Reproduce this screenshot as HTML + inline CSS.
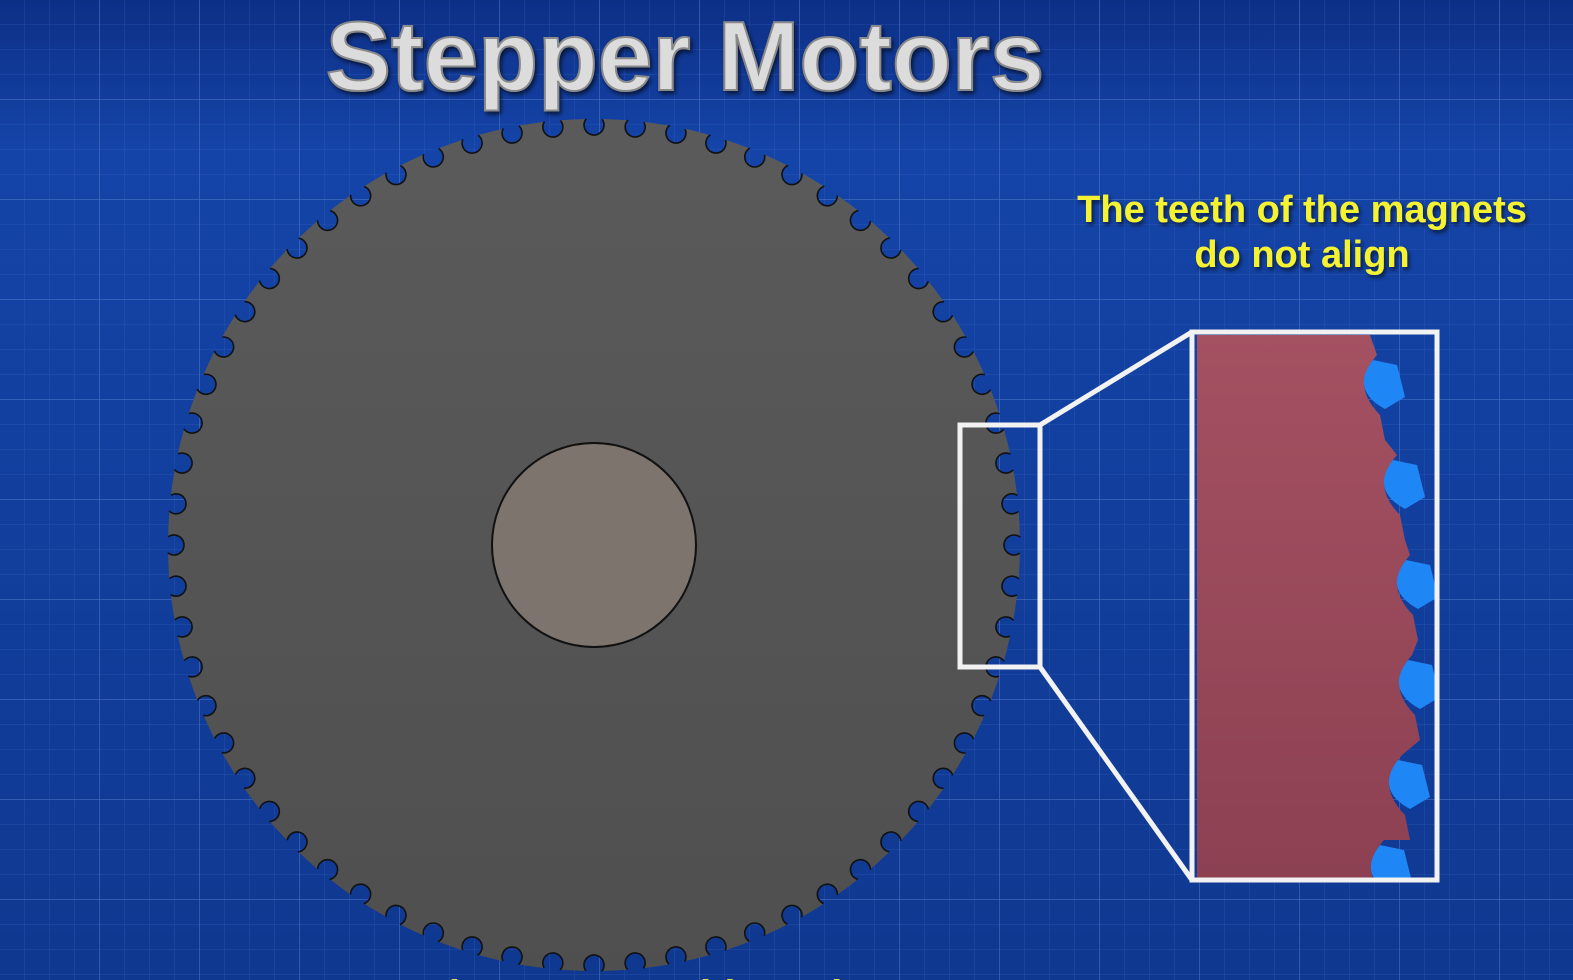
<!DOCTYPE html>
<html><head><meta charset="utf-8"><style>
html,body{margin:0;padding:0;width:1573px;height:980px;overflow:hidden;background:#1241a0;}
svg{display:block}
</style></head><body>
<svg id="scene" width="1573" height="980" viewBox="0 0 1573 980" xmlns="http://www.w3.org/2000/svg">
<defs>
  <linearGradient id="bg" x1="0" y1="0" x2="0" y2="1">
    <stop offset="0" stop-color="#0d2f86"/>
    <stop offset="0.15" stop-color="#1444a8"/>
    <stop offset="1" stop-color="#0f3890"/>
  </linearGradient>
  <pattern id="minor" width="25" height="25" patternUnits="userSpaceOnUse">
    <path d="M25 0V25M0 25H25" stroke="#3a66c0" stroke-width="1" fill="none" opacity="0.5"/>
  </pattern>
  <pattern id="major" width="100" height="100" patternUnits="userSpaceOnUse">
    <path d="M100 0V100M0 100H100" stroke="#5a84d0" stroke-width="1.5" fill="none" opacity="0.5"/>
  </pattern>
  <linearGradient id="gearg" x1="0" y1="0" x2="0" y2="1">
    <stop offset="0" stop-color="#5c5c5c"/>
    <stop offset="1" stop-color="#4f4f4f"/>
  </linearGradient>
  <linearGradient id="redg" x1="0" y1="0" x2="0" y2="1">
    <stop offset="0" stop-color="#a45162"/>
    <stop offset="1" stop-color="#8a3f50"/>
  </linearGradient>
  <clipPath id="insetclip"><rect x="1192" y="332" width="245" height="548"/></clipPath>
  <mask id="gearmask"><rect width="1573" height="980" fill="black"/><g id="maskg"></g></mask>
  <filter id="sh"><feDropShadow dx="2" dy="3" stdDeviation="2" flood-color="#000" flood-opacity="0.6"/></filter>
</defs>
<rect width="1573" height="980" fill="url(#bg)"/>
<rect width="1573" height="980" fill="url(#minor)"/>
<rect width="1573" height="980" fill="url(#major)"/>

<text x="685" y="90" text-anchor="middle" font-family="Liberation Sans, sans-serif" font-weight="bold" font-size="98" fill="#dcdcdc" stroke="#8a8a8a" stroke-width="2" filter="url(#sh)">Stepper Motors</text>

<rect width="1573" height="980" fill="url(#gearg)" mask="url(#gearmask)"/>
<g id="notchlines"></g>
<circle cx="594" cy="545" r="102" fill="#7c746d" stroke="#111" stroke-width="2"/>

<rect x="960" y="425" width="80" height="242" fill="none" stroke="#f2f2f2" stroke-width="5"/>
<line x1="1040" y1="425" x2="1192" y2="332" stroke="#f2f2f2" stroke-width="5"/>
<line x1="1040" y1="667" x2="1192" y2="880" stroke="#f2f2f2" stroke-width="5"/>

<g>
  <g clip-path="url(#insetclip)">
    <path id="redpath" fill="url(#redg)"/>
    <g id="blueteeth"></g>
  </g>
  <rect x="1192" y="332" width="245" height="548" fill="none" stroke="#f2f2f2" stroke-width="5"/>
</g>

<g font-family="Liberation Sans, sans-serif" font-weight="bold" font-size="38" fill="#f5f230" text-anchor="middle" filter="url(#sh)">
  <text x="1302" y="222">The teeth of the magnets</text>
  <text x="1302" y="267">do not align</text>
</g>
<text x="640" y="1008" text-anchor="middle" font-family="Liberation Sans, sans-serif" font-weight="bold" font-size="40" fill="#e8e040">The Rotor ... with teeth</text>
</svg>
<script>
const NS='http://www.w3.org/2000/svg';
const cx=594,cy=545,R=426,N=64,nr=10;
const mg=document.getElementById('maskg');
const nl=document.getElementById('notchlines');
let c=document.createElementNS(NS,'circle');
c.setAttribute('cx',cx);c.setAttribute('cy',cy);c.setAttribute('r',R);c.setAttribute('fill','white');
mg.appendChild(c);
for(let i=0;i<N;i++){
  const a=i/N*2*Math.PI;
  const x=cx+(R-6)*Math.cos(a),y=cy+(R-6)*Math.sin(a);
  const m=document.createElementNS(NS,'circle');
  m.setAttribute('cx',x);m.setAttribute('cy',y);m.setAttribute('r',nr);m.setAttribute('fill','black');
  mg.appendChild(m);
  const o=document.createElementNS(NS,'circle');
  o.setAttribute('cx',x);o.setAttribute('cy',y);o.setAttribute('r',nr);
  o.setAttribute('fill','none');o.setAttribute('stroke','#111');o.setAttribute('stroke-width','1.6');
  o.setAttribute('stroke-dasharray',(Math.PI*nr*1.4)+' '+(Math.PI*nr*0.6));
  o.setAttribute('transform','rotate('+(a*180/Math.PI+55)+' '+x+' '+y+')');
  
  
  nl.appendChild(o);
}
const teethY=[385,485,585,685,785,870];
const edgeX=[1375,1395,1408,1410,1400,1382];
let d='M1197 335 L1370 335 ';
for(let i=0;i<teethY.length;i++){
  const y=teethY[i],x=edgeX[i];
  d+='L'+(x+2)+' '+(y-30)+' ';
  d+='Q'+(x-25)+' '+(y)+' '+(x+5)+' '+(y+30)+' ';
  d+='L'+(x+10)+' '+(y+55)+' ';
}
d+='L1380 878 L1197 878 Z';
document.getElementById('redpath').setAttribute('d',d);
const bt=document.getElementById('blueteeth');
for(let i=0;i<teethY.length;i++){
  const y=teethY[i],x=edgeX[i];
  const p=document.createElementNS(NS,'path');
  p.setAttribute('d','M'+(x-2)+' '+(y-25)+' L'+(x+22)+' '+(y-20)+' L'+(x+30)+' '+(y+12)+' L'+(x+10)+' '+(y+24)+' Q'+(x-25)+' '+(y+5)+' '+(x-2)+' '+(y-25)+' Z');
  p.setAttribute('fill','#1f86f5');
  
  
  bt.appendChild(p);
}
</script>
</body></html>
